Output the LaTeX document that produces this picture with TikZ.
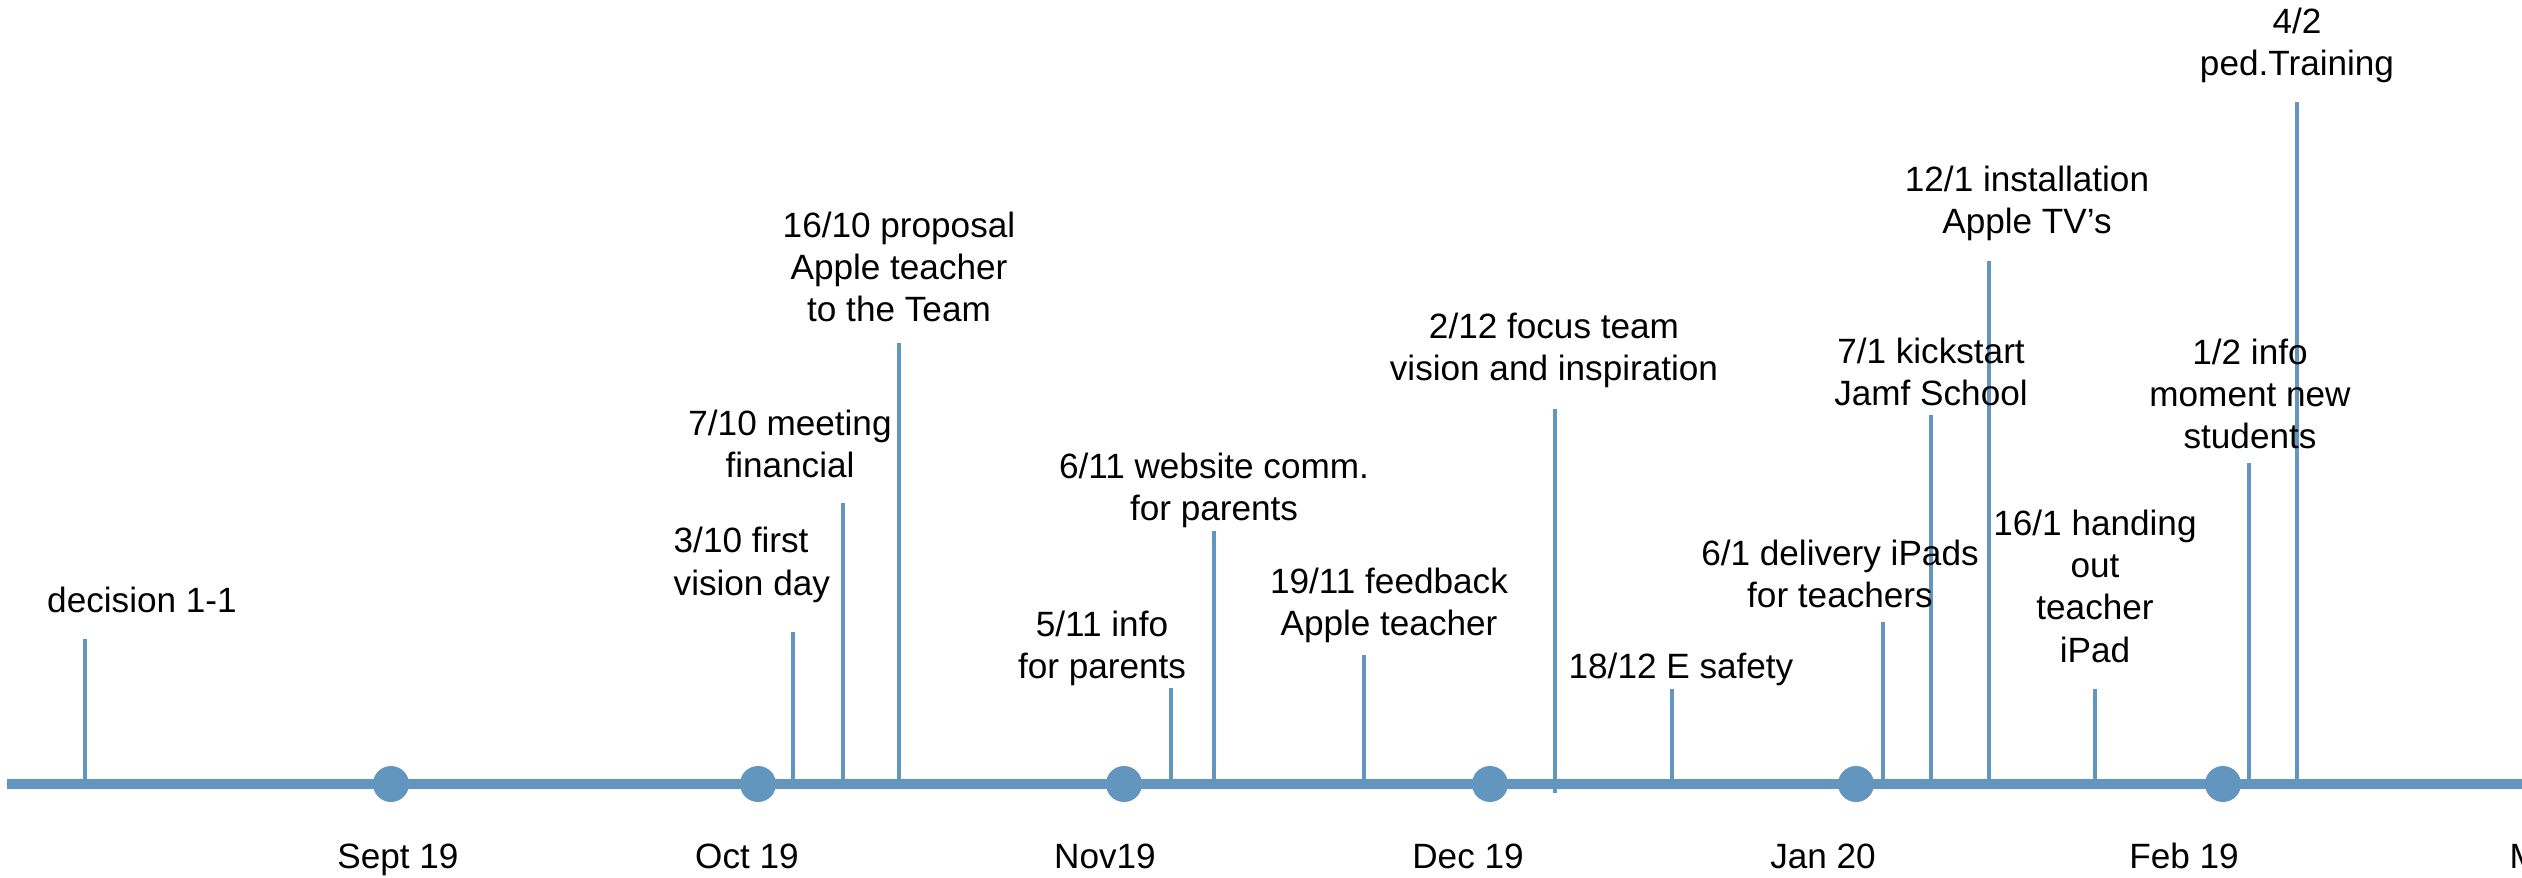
\documentclass[tikz,border=0pt]{standalone}
\usepackage{fontspec}
\setmainfont{Liberation Sans}
\definecolor{tlblue}{RGB}{99,150,191}
\tikzset{
  axisline/.style={draw=tlblue, line width=3.1pt},
  eventline/.style={draw=tlblue, line width=0.9pt},
  dot/.style={circle, fill=tlblue, inner sep=0pt, minimum size=0.36cm},
  event/.style={align=center, anchor=base, inner sep=0pt},
  month/.style={anchor=base, inner sep=0pt}
}
\begin{document}
\begin{tikzpicture}[font=\fontsize{10}{12}\selectfont]
  \useasboundingbox (0,0) rectangle (25.22,8.77);
  \clip (0,0) rectangle (25.22,8.77);
  \path
    (0.85,0.93) coordinate (b1)   (0.85,2.38) coordinate (t1)
    (7.93,0.93) coordinate (b2)   (7.93,2.45) coordinate (t2)
    (8.43,0.93) coordinate (b3)   (8.43,3.74) coordinate (t3)
    (8.99,0.93) coordinate (b4)   (8.99,5.34) coordinate (t4)
    (11.71,0.93) coordinate (b5)  (11.71,1.89) coordinate (t5)
    (12.14,0.93) coordinate (b6)  (12.14,3.46) coordinate (t6)
    (13.64,0.93) coordinate (b7)  (13.64,2.22) coordinate (t7)
    (15.55,0.84) coordinate (b8)  (15.55,4.68) coordinate (t8)
    (16.72,0.93) coordinate (b9)  (16.72,1.88) coordinate (t9)
    (18.83,0.93) coordinate (b10) (18.83,2.55) coordinate (t10)
    (19.31,0.93) coordinate (b11) (19.31,4.62) coordinate (t11)
    (19.89,0.93) coordinate (b12) (19.89,6.16) coordinate (t12)
    (20.95,0.93) coordinate (b13) (20.95,1.88) coordinate (t13)
    (22.49,0.93) coordinate (b14) (22.49,4.14) coordinate (t14)
    (22.97,0.93) coordinate (b15) (22.97,7.75) coordinate (t15);
  \begin{scope}[eventline]
    \draw (b1) to (t1);
    \draw (b2) to (t2);
    \draw (b3) to (t3);
    \draw (b4) to (t4);
    \draw (b5) to (t5);
    \draw (b6) to (t6);
    \draw (b7) to (t7);
    \draw (b8) to (t8);
    \draw (b9) to (t9);
    \draw (b10) to (t10);
    \draw (b11) to (t11);
    \draw (b12) to (t12);
    \draw (b13) to (t13);
    \draw (b14) to (t14);
    \draw (b15) to (t15);
  \end{scope}
  \path (0.07,0.93) coordinate (start) (25.40,0.93) coordinate (stop);
  \draw[axisline] (start) -- (stop);
  \node[dot] (sep) at (3.91,0.93) {};
  \node[dot] (oct) at (7.58,0.93) {};
  \node[dot] (nov) at (11.24,0.93) {};
  \node[dot] (dec) at (14.90,0.93) {};
  \node[dot] (jan) at (18.56,0.93) {};
  \node[dot] (feb) at (22.23,0.93) {};
  \node[month] (lsep) at (3.98,0.09) {Sept 19};
  \node[month] (loct) at (7.47,0.09) {Oct 19};
  \node[month] (lnov) at (11.05,0.09) {Nov19};
  \node[month] (ldec) at (14.68,0.09) {Dec 19};
  \node[month] (ljan) at (18.23,0.09) {Jan 20};
  \node[month] (lfeb) at (21.84,0.09) {Feb 19};
  \node[month, anchor=base west] (lmar) at (25.09,0.09) {Mar 20};
  \node[event] (e1) at (1.42,2.64) {decision 1-1};
  \node[event, align=left, anchor=base west] (e2) at (6.73,2.82) {3/10 first\\vision day};
  \node[event] (e3) at (7.90,3.99) {7/10 meeting\\financial};
  \node[event] (e4) at (8.99,5.55) {16/10 proposal\\Apple teacher\\to the Team};
  \node[event] (e5) at (11.02,1.98) {5/11 info\\for parents};
  \node[event] (e6) at (12.14,3.56) {6/11 website comm.\\for parents};
  \node[event] (e7) at (13.89,2.41) {19/11 feedback\\Apple teacher};
  \node[event] (e8) at (15.54,4.96) {2/12 focus team\\vision and inspiration};
  \node[event] (e9) at (16.81,1.98) {18/12 E safety};
  \node[event] (e10) at (18.40,2.69) {6/1 delivery iPads\\for teachers};
  \node[event] (e11) at (19.31,4.71) {7/1 kickstart\\Jamf School};
  \node[event] (e12) at (20.27,6.43) {12/1 installation\\Apple TV’s};
  \node[event] (e13) at (20.95,2.15) {16/1 handing\\out\\teacher\\iPad};
  \node[event] (e14) at (22.50,4.28) {1/2 info\\moment new\\students};
  \node[event] (e15) at (22.97,8.01) {4/2\\ped.Training};
\end{tikzpicture}
\end{document}
